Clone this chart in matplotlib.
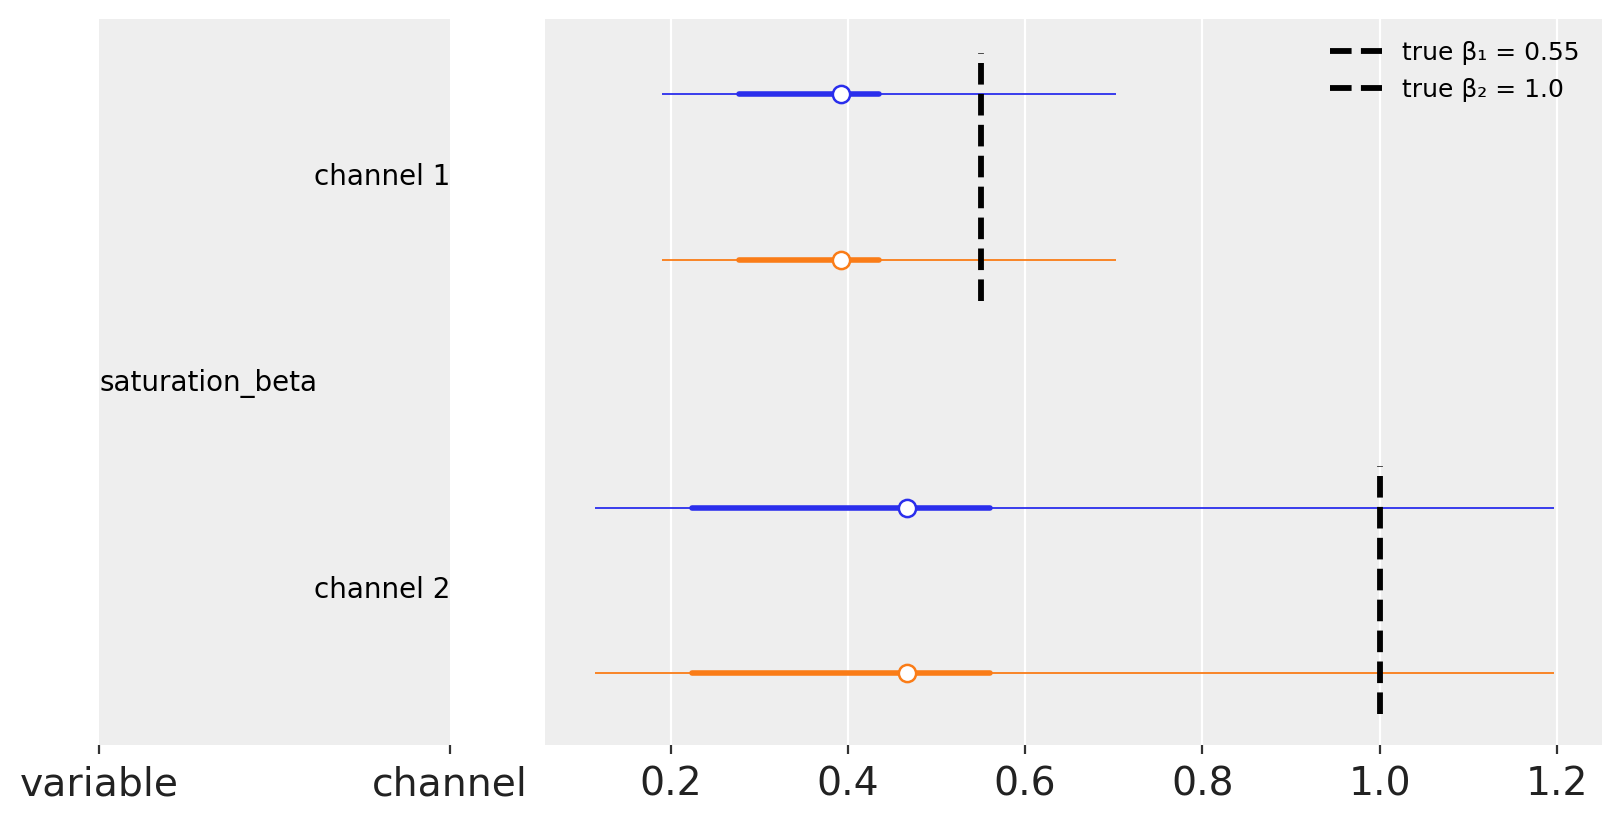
import matplotlib.pyplot as plt

# forest plot summary, one row per chain
channels = ["channel 1", "channel 2"]
var_name = "saturation_beta"
chain_colors = ["#2a2eec", "#fa7c17"]

median = [[0.392, 0.392], [0.467, 0.467]]
hdi_low = [[0.190, 0.190], [0.115, 0.115]]
hdi_high = [[0.703, 0.703], [1.197, 1.197]]
iqr_low = [[0.277, 0.277], [0.224, 0.224]]
iqr_high = [[0.435, 0.435], [0.560, 0.560]]

true_beta = [0.55, 1.0]
legend_labels = ["true β₁ = 0.55", "true β₂ = 1.0"]
col_labels = ["variable", "channel"]

bg = "#eeeeee"
fig = plt.figure(figsize=(8.115, 4.115), dpi=200)
ax_lab = fig.add_axes([0.0612, 0.0943, 0.2162, 0.883])
ax = fig.add_axes([0.3361, 0.0943, 0.6511, 0.883])

# y layout: two chains per channel, channel 1 on top
chain_gap = 1.0
group_gap = 1.5
ypos = []
for i in range(len(channels)):
    base = (len(channels) - 1 - i) * (chain_gap + group_gap)
    ypos.append([base + chain_gap, base])

for i in range(len(channels)):
    for c in range(2):
        y = ypos[i][c]
        col = chain_colors[c]
        ax.plot([hdi_low[i][c], hdi_high[i][c]], [y, y], color=col, lw=0.65, solid_capstyle="butt", zorder=3)
        ax.plot([iqr_low[i][c], iqr_high[i][c]], [y, y], color=col, lw=2.0, solid_capstyle="round", zorder=3)
        ax.plot(median[i][c], y, "o", color=col, mfc="white", mec=col, ms=6.2, mew=0.9, zorder=4)

for i, tb in enumerate(true_beta):
    ax.vlines(tb, min(ypos[i]) - 0.25, max(ypos[i]) + 0.25, colors="black",
              linestyles="--", lw=2.1, zorder=5, label=legend_labels[i])

ymin = min(min(p) for p in ypos) - 0.4375
ymax = max(max(p) for p in ypos) + 0.456
for a in (ax, ax_lab):
    a.set_facecolor(bg)
    a.set_ylim(ymin, ymax)
    a.set_yticks([])
    for s in a.spines.values():
        s.set_visible(False)
    a.tick_params(axis="x", length=3.2, width=0.8, color="#333333", labelsize=14.2, labelcolor="#222222", pad=4)

ax.set_xlim(0.0586, 1.2514)
ax.set_xticks([0.2, 0.4, 0.6, 0.8, 1.0, 1.2])
ax.grid(axis="x", color="white", lw=0.8, zorder=0)
ax.set_axisbelow(True)
ax.legend(loc="upper right", frameon=False, fontsize=9, handlelength=2.1)

ax_lab.set_xlim(0, 1)
ax_lab.set_xticks([0, 1])
ax_lab.set_xticklabels(col_labels)
for i, ch in enumerate(channels):
    ax_lab.text(1, sum(ypos[i]) / 2, ch, ha="right", va="center", fontsize=10, color="black")
all_y = [y for p in ypos for y in p]
ax_lab.text(0, (min(all_y) + max(all_y)) / 2, var_name, ha="left", va="center", fontsize=10, color="black")

fig.savefig("out.png", dpi=200)
